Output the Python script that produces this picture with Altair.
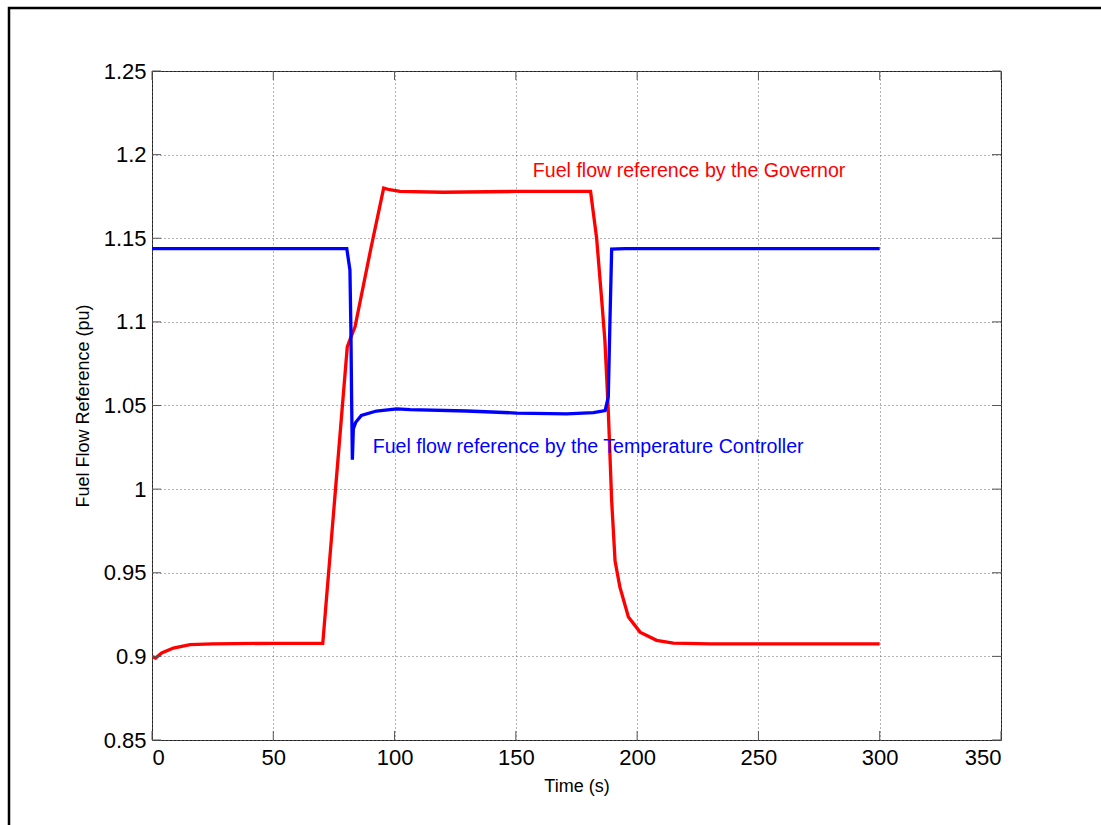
import altair as alt
import pandas as pd

# Governor fuel-flow reference (red)
red_t = [0, 1.5, 4, 8.8, 15.7, 25, 50, 70.4, 75.2, 80.5, 81.5, 83.7, 90.1, 95.5,
         98, 102.2, 120, 150, 180.8, 183.3, 185.4, 186.7, 188.1, 189.5, 190.9,
         192.9, 196.4, 201.2, 208, 214.9, 230, 260, 300]
red_v = [0.900, 0.899, 0.902, 0.905, 0.907, 0.9075, 0.9078, 0.9078, 0.992, 1.085,
         1.089, 1.097, 1.143, 1.180, 1.179, 1.178, 1.1775, 1.178, 1.178, 1.150,
         1.113, 1.089, 1.047, 0.993, 0.957, 0.9414, 0.9235, 0.9145, 0.9096,
         0.9079, 0.9075, 0.9075, 0.9075]

# Temperature controller fuel-flow reference (blue)
blue_t = [0, 80.3, 81.6, 82.0, 82.3, 82.6, 83.0, 84.0, 86.3, 92.5, 100.9, 106.4,
          129.7, 150.3, 171, 182, 186.8, 188.1, 188.8, 189.5, 195, 250, 300]
blue_v = [1.1438, 1.1438, 1.131, 1.095, 1.053, 1.0176, 1.036, 1.040, 1.044, 1.0467,
          1.048, 1.0475, 1.0467, 1.0455, 1.045, 1.0457, 1.047, 1.055, 1.101,
          1.1435, 1.1438, 1.1438, 1.1438]

x_ticks = [0, 50, 100, 150, 200, 250, 300, 350]
y_ticks = [0.85, 0.9, 0.95, 1.0, 1.05, 1.1, 1.15, 1.2, 1.25]

labels_text = ["Fuel flow reference by the Governor",
               "Fuel flow reference by the Temperature Controller"]
labels_x = [157, 91]
labels_y = [1.19, 1.025]
labels_color = ["#FF0000", "#0000FF"]

W, H = 849, 669
FONT = "Liberation Sans"

xs = alt.Scale(domain=[0, 350], nice=False, zero=False)
ys = alt.Scale(domain=[0.85, 1.25], nice=False, zero=False)

df = pd.concat([
    pd.DataFrame({"t": red_t, "v": red_v, "s": "Governor"}),
    pd.DataFrame({"t": blue_t, "v": blue_v, "s": "Temperature Controller"}),
])

lines = alt.Chart(df).mark_line(strokeWidth=3.3, clip=True).encode(
    x=alt.X("t:Q", scale=xs,
            axis=alt.Axis(values=x_ticks, title="Time (s)", ticks=False, domain=False,
                          grid=True, gridDash=[1, 3], gridColor="#666", gridWidth=1,
                          labelFontSize=22, labelFont=FONT, labelColor="black",
                          labelPadding=7, titleFontSize=18, titleFont=FONT,
                          titleFontWeight="normal", titleColor="black", titlePadding=9)),
    y=alt.Y("v:Q", scale=ys,
            axis=alt.Axis(values=y_ticks, format=".3~g", title="Fuel Flow Reference (pu)",
                          ticks=False, domain=False, grid=True, gridDash=[1, 3],
                          gridColor="#666", gridWidth=1, labelFontSize=22, labelFont=FONT,
                          labelColor="black", labelPadding=6, titleFontSize=18,
                          titleFont=FONT, titleFontWeight="normal", titleColor="black",
                          titlePadding=11)),
    color=alt.Color("s:N", scale=alt.Scale(domain=["Governor", "Temperature Controller"],
                                           range=["#FF0000", "#0000FF"]), legend=None),
    order=alt.Order("t:Q"),
)

ann = alt.Chart(pd.DataFrame({"txt": labels_text, "x": labels_x, "y": labels_y,
                              "c": labels_color})).mark_text(
    align="left", baseline="middle", fontSize=19.6, font=FONT).encode(
    x=alt.X("x:Q", scale=xs), y=alt.Y("y:Q", scale=ys), text="txt:N",
    color=alt.Color("c:N", scale=None))

xt = pd.DataFrame({"x": x_ticks})
yt = pd.DataFrame({"y": y_ticks})
tick_style = dict(color="#555", strokeWidth=1)
tb = alt.Chart(xt).mark_rule(**tick_style).encode(
    x=alt.X("x:Q", scale=xs), y=alt.value(H), y2=alt.value(H - 9))
tt = alt.Chart(xt).mark_rule(**tick_style).encode(
    x=alt.X("x:Q", scale=xs), y=alt.value(0), y2=alt.value(9))
tl = alt.Chart(yt).mark_rule(**tick_style).encode(
    y=alt.Y("y:Q", scale=ys), x=alt.value(0), x2=alt.value(9))
tr = alt.Chart(yt).mark_rule(**tick_style).encode(
    y=alt.Y("y:Q", scale=ys), x=alt.value(W), x2=alt.value(W - 9))

one = pd.DataFrame({"a": [0]})
frame = alt.Chart(one).mark_rect(fill=None, stroke="black", strokeWidth=2.5).encode(
    x=alt.value(-143), x2=alt.value(980), y=alt.value(-63), y2=alt.value(790))

chart = alt.layer(lines, ann, tb, tt, tl, tr, frame).properties(
    width=W, height=H,
    autosize=alt.AutoSizeParams(type="none"),
    padding={"left": 152, "top": 71, "right": 100, "bottom": 85},
    background="white",
).configure_view(stroke="#222", strokeWidth=1)

chart.save("out.html", embed_options={"renderer": "svg", "actions": False})
